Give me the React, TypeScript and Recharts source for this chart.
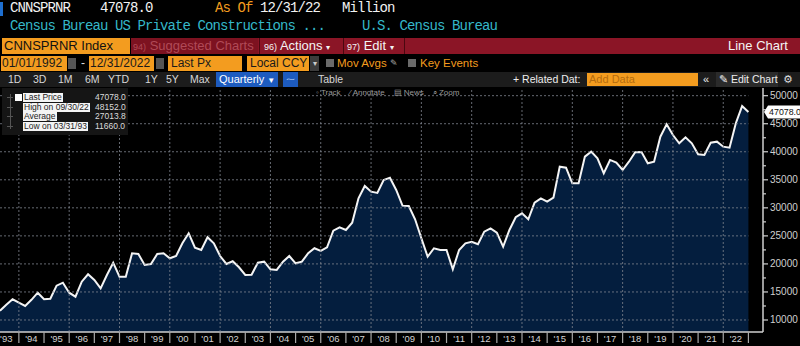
import React from "react";
import {
  Area,
  ComposedChart,
  Line,
  ReferenceDot,
  XAxis,
  YAxis,
} from "recharts";

// CNNSPRNR, quarterly, USD mn (Q1..Q4 per row)
const constructionValues = [
  11660, 12700, 13690, 13100, // 1993
  12500, 13600, 14870, 13690, // 1994
  13800, 16120, 16650, 14870, // 1995
  14160, 16830, 18150, 17130, // 1996
  15650, 18030, 20220, 17730, // 1997
  17730, 21900, 21770, 19810, // 1998
  19990, 21770, 21900, 21000, // 1999
  21410, 23680, 25460, 22900, // 2000
  22480, 24750, 23680, 21410, // 2001
  19990, 20470, 19400, 18030, // 2002
  18080, 20220, 20400, 19040, // 2003
  18920, 20400, 21410, 20110, // 2004
  20400, 21900, 22790, 22310, // 2005
  22970, 25930, 26530, 26050, // 2006
  27350, 31700, 33900, 32880, // 2007
  32650, 34970, 35380, 33190, // 2008
  30390, 30330, 27960, 24570, // 2009
  21290, 22790, 22480, 22480, // 2010
  19040, 22480, 23680, 23960, // 2011
  23500, 25750, 26350, 25570, // 2012
  23070, 26050, 28320, 29030, // 2013
  27960, 30920, 31700, 31100, // 2014
  31810, 37340, 37160, 34380, // 2015
  34380, 39130, 40020, 38840, // 2016
  36160, 38540, 38060, 36750, // 2017
  38230, 39910, 39960, 37950, // 2018
  38230, 42690, 44900, 42990, // 2019
  41510, 42580, 41510, 39550, // 2020
  39430, 41620, 41800, 40910, // 2021
  40730, 45080, 48152, 47078, // 2022
];
const firstQuarterEnd = 1993.25; // 03/31/93

const yearTicks = [
  1994, 1995, 1996, 1997, 1998, 1999, 2000, 2001, 2002, 2003, 2004, 2005, 2006,
  2007, 2008, 2009, 2010, 2011, 2012, 2013, 2014, 2015, 2016, 2017, 2018, 2019,
  2020, 2021, 2022, 2023,
];
const valueTicks = [
  10000, 12500, 15000, 17500, 20000, 22500, 25000, 27500, 30000, 32500, 35000,
  37500, 40000, 42500, 45000, 47500, 50000,
];
const lastValue = 47078;
const lastDate = 2023.0;

const legendRows = [
  { label: "Last Price", value: "47078.0" },
  { label: "High on 09/30/22", value: "48152.0" },
  { label: "Average", value: "27013.8" },
  { label: "Low on 03/31/93", value: "11660.0" },
];

const chartData = constructionValues.map((v, i) => ({ t: firstQuarterEnd + i / 4, v }));

const CHART_TOP = 86;
const CHART_W = 800;
const CHART_H = 260;
const TOP_MARGIN = 2;
const X_AXIS_H = 14;
const Y_AXIS_W = 37;
const X_DOMAIN: [number, number] = [1993.25, 2023.58];
const Y_DOMAIN: [number, number] = [7860, 51370];
const PLOT_W = CHART_W - Y_AXIS_W;
const PLOT_H = CHART_H - TOP_MARGIN - X_AXIS_H;
const PX_PER_YEAR = PLOT_W / (X_DOMAIN[1] - X_DOMAIN[0]);
const HALF_YEAR = PX_PER_YEAR / 2;
const DATA_END_PX = (lastDate - X_DOMAIN[0]) * PX_PER_YEAR;

const ORANGE = "#f39c1f";
const SANS = '"Liberation Sans", Arial, sans-serif';
const MONO = '"Liberation Mono", "DejaVu Sans Mono", monospace';
const GRID_STROKE = "#80858e";
const AXIS_STROKE = "#cfcfcf";

// year label between boundaries, separator at boundary, dotted grid every 2nd year
function YearTick(props: any) {
  const { x, y, payload } = props;
  const label = "'" + String(payload.value - 1).slice(2);
  const grid = payload.value % 2 === 0 && payload.value <= lastDate - 1;
  return (
    <g>
      {grid && (
        <line x1={x} y1={y} x2={x} y2={y - PLOT_H} stroke={GRID_STROKE} strokeDasharray="2 2" strokeOpacity={0.8} />
      )}
      <line x1={x} y1={y} x2={x} y2={y + 11} stroke="#a8a8a8" strokeWidth={1.2} />
      <text x={x - HALF_YEAR} y={y + 9.5} textAnchor="middle" fill="#d2d2d2" fontSize={9.5} fontFamily={SANS}>
        {label}
      </text>
    </g>
  );
}

// right-hand ticks; majors get a label and a dotted grid line back to the data end
function ValueTick(props: any) {
  const { x, y, payload } = props;
  const major = payload.value % 5000 === 0;
  const plotLeft = x - PLOT_W;
  return (
    <g>
      {major && (
        <line
          x1={plotLeft}
          y1={y}
          x2={plotLeft + DATA_END_PX}
          y2={y}
          stroke={GRID_STROKE}
          strokeDasharray="2 2"
          strokeOpacity={0.8}
        />
      )}
      <line x1={x} y1={y} x2={x + (major ? 5 : 3)} y2={y} stroke={AXIS_STROKE} strokeWidth={1.2} />
      {major && (
        <text x={x + 7} y={y + 3.5} fill="#cfcfcf" fontSize={10} fontFamily={SANS}>
          {payload.value}
        </text>
      )}
    </g>
  );
}

function LastValueTag(props: any) {
  const { cy } = props;
  const x0 = PLOT_W + 1;
  return (
    <g>
      <path
        d={`M${x0} ${cy} L${x0 + 4} ${cy - 6.5} L${CHART_W} ${cy - 6.5} L${CHART_W} ${cy + 6.5} L${x0 + 4} ${cy + 6.5} Z`}
        fill="#ffffff"
      />
      <text x={x0 + 21} y={cy + 3.2} textAnchor="middle" fill="#111" fontSize={8.8} fontFamily={SANS}>
        {lastValue.toFixed(1)}
      </text>
    </g>
  );
}

const abs = (left: number, top: number, extra: React.CSSProperties = {}): React.CSSProperties => ({
  position: "absolute",
  left,
  top,
  whiteSpace: "nowrap",
  ...extra,
});

function Box({ left, top, width, height, bg, children, style }: any) {
  return (
    <div style={abs(left, top, { width, height, background: bg, overflow: "hidden", ...style })}>{children}</div>
  );
}

export default function App() {
  const mono = { fontFamily: MONO, fontSize: 14, letterSpacing: -0.9, lineHeight: "17px" };
  const row3 = { fontFamily: SANS, fontSize: 13, lineHeight: "16px" };
  const row4 = { fontFamily: SANS, fontSize: 12, lineHeight: "16px", color: "#1a1a1a" };
  const row5 = { fontFamily: SANS, fontSize: 10.5, lineHeight: "15px", color: "#d8d8d8" };

  return (
    <div style={abs(0, 0, { width: 800, height: 346, background: "#000", overflow: "hidden" })}>
      {/* row 1: ticker */}
      <Box left={0} top={2} width={3} height={14} bg="#1e6fd0" />
      <div style={abs(10, 0, { ...mono, color: "#f2f2f2" })}>CNNSPRNR</div>
      <div style={abs(100, 0, { ...mono, color: "#f2f2f2" })}>47078.0</div>
      <div style={abs(215, 0, { ...mono, color: ORANGE })}>As Of</div>
      <div style={abs(260, 0, { ...mono, color: "#f2f2f2" })}>12/31/22</div>
      <div style={abs(342, 0, { ...mono, color: "#f2f2f2" })}>Million</div>
      {/* row 2: description */}
      <div style={abs(10, 18, { ...mono, color: "#35b8c9" })}>Census Bureau US Private Constructions ...</div>
      <div style={abs(362, 18, { ...mono, color: "#35b8c9" })}>U.S. Census Bureau</div>

      {/* row 3: security / menu bar */}
      <Box left={2} top={38} width={128} height={16} bg={ORANGE}>
        <div style={{ ...row3, color: "#111", paddingLeft: 2 }}>CNNSPRNR Index</div>
      </Box>
      <Box left={131} top={38} width={669} height={16} bg="#8b1526" />
      <Box left={131} top={38} width={127} height={16} bg="#7d1220">
        <div style={{ ...row3, color: "#b04a57", paddingLeft: 2 }}>
          <span style={{ fontSize: 9 }}>94)</span> Suggested Charts
        </div>
      </Box>
      <Box left={259} top={38} width={1} height={16} bg="#4a0810" />
      <div style={abs(264, 38, { ...row3, color: "#f4f4f4" })}>
        <span style={{ fontSize: 9 }}>96)</span> Actions <span style={{ fontSize: 8 }}>▾</span>
      </div>
      <Box left={343} top={38} width={1} height={16} bg="#4a0810" />
      <div style={abs(347, 38, { ...row3, color: "#f4f4f4" })}>
        <span style={{ fontSize: 9 }}>97)</span> Edit <span style={{ fontSize: 8 }}>▾</span>
      </div>
      <Box left={404} top={38} width={1} height={16} bg="#4a0810" />
      <div style={abs(728, 38, { ...row3, color: "#f4f4f4" })}>Line Chart</div>

      {/* row 4: date range and options */}
      <Box left={1} top={56} width={66} height={15} bg={ORANGE}>
        <div style={{ ...row4, lineHeight: "15px", paddingLeft: 1 }}>01/01/1992</div>
      </Box>
      <Box left={68} top={58} width={8} height={11} bg="#555" />
      <div style={abs(81, 55, { ...row4, color: "#ddd" })}>-</div>
      <Box left={89} top={56} width={65} height={15} bg={ORANGE}>
        <div style={{ ...row4, lineHeight: "15px", paddingLeft: 1 }}>12/31/2022</div>
      </Box>
      <Box left={156} top={58} width={8} height={11} bg="#555" />
      <Box left={168} top={56} width={74} height={15} bg={ORANGE}>
        <div style={{ ...row4, lineHeight: "15px", paddingLeft: 3 }}>Last Px</div>
      </Box>
      <Box left={247} top={56} width={62} height={15} bg={ORANGE}>
        <div style={{ ...row4, lineHeight: "15px", paddingLeft: 3 }}>Local CCY</div>
      </Box>
      <Box left={310} top={56} width={9} height={15} bg="#3c3c3c">
        <div style={{ ...row4, fontSize: 8, color: "#ccc", textAlign: "center", lineHeight: "15px" }}>▾</div>
      </Box>
      <Box left={326} top={59} width={8} height={8} bg="#6a6a6a" />
      <div style={abs(337, 55, { ...row4, fontSize: 11.5, color: ORANGE })}>Mov Avgs</div>
      <div style={abs(390, 55, { ...row4, color: "#aaa", fontFamily: "DejaVu Sans", fontSize: 9 })}>✎</div>
      <Box left={408} top={59} width={8} height={8} bg="#6a6a6a" />
      <div style={abs(420, 55, { ...row4, fontSize: 11.5, color: ORANGE })}>Key Events</div>

      {/* row 5: period buttons */}
      <Box left={0} top={72} width={800} height={15} bg="#1c1c1c" />
      {[
        ["1D", 8],
        ["3D", 33],
        ["1M", 58],
        ["6M", 85],
        ["YTD", 108],
        ["1Y", 145],
        ["5Y", 166],
        ["Max", 190],
      ].map(([t, l]) => (
        <div key={t as string} style={abs(l as number, 72, row5)}>
          {t}
        </div>
      ))}
      <Box left={216} top={72} width={62} height={15} bg="#1d5bbf">
        <div style={{ ...row5, color: "#fff", paddingLeft: 3, fontSize: 11 }}>
          Quarterly <span style={{ fontSize: 8 }}>▼</span>
        </div>
      </Box>
      <Box left={283} top={72} width={15} height={15} bg="#1d5bbf">
        <div style={{ ...row5, color: "#cfe0ff", fontSize: 9, textAlign: "center" }}>⁓</div>
      </Box>
      <div style={abs(318, 72, row5)}>Table</div>
      <div style={abs(513, 72, { ...row5, color: "#eee" })}>+ Related Dat:</div>
      <Box left={587} top={73} width={111} height={13} bg={ORANGE}>
        <div style={{ ...row5, lineHeight: "13px", color: "#b56c0e", paddingLeft: 2, fontSize: 11 }}>Add Data</div>
      </Box>
      <div style={abs(703, 72, { ...row5, color: "#eee", fontSize: 11 })}>«</div>
      <Box left={716} top={72} width={62} height={15} bg="#2b2b2b">
        <div style={{ ...row5, color: "#eee", paddingLeft: 3 }}>✎ Edit Chart</div>
      </Box>
      <div style={abs(783, 72, { ...row5, color: "#ddd", fontFamily: "DejaVu Sans", fontSize: 11 })}>⚙</div>

      {/* chart */}
      <div style={abs(0, CHART_TOP)}>
        <ComposedChart
          width={CHART_W}
          height={CHART_H}
          data={chartData}
          margin={{ top: TOP_MARGIN, right: 0, bottom: 0, left: 0 }}
        >
          <XAxis
            type="number"
            dataKey="t"
            domain={X_DOMAIN}
            ticks={yearTicks}
            interval={0}
            height={X_AXIS_H}
            tickSize={0}
            tickMargin={0}
            tick={<YearTick />}
            axisLine={{ stroke: AXIS_STROKE, strokeWidth: 1.5 }}
          />
          <YAxis
            orientation="right"
            type="number"
            domain={Y_DOMAIN}
            ticks={valueTicks}
            interval={0}
            width={Y_AXIS_W}
            tickSize={0}
            tickMargin={0}
            tick={<ValueTick />}
            axisLine={{ stroke: AXIS_STROKE, strokeWidth: 1.5 }}
          />
          <Area
            dataKey="v"
            type="linear"
            stroke="none"
            fill="#041e3e"
            fillOpacity={1}
            isAnimationActive={false}
          />
          <Line
            dataKey="v"
            type="linear"
            stroke="#f4f4f4"
            strokeWidth={2}
            dot={false}
            isAnimationActive={false}
          />
          <ReferenceDot x={lastDate} y={lastValue} ifOverflow="visible" shape={<LastValueTag />} />
        </ComposedChart>
      </div>

      {/* chart tools */}
      <div style={abs(316, 87, { fontFamily: SANS, fontSize: 8, color: "#9a9a9a", lineHeight: "11px" })}>
        ◦ Track &nbsp;&nbsp; ⁄ Annotate &nbsp;&nbsp; ▤ News &nbsp;&nbsp; ⌕ Zoom
      </div>

      {/* legend */}
      <Box left={2} top={88} width={126} height={47} bg="#151515" style={{ zIndex: 2 }}>
        <div style={abs(8, 6, { width: 1, height: 35, background: "#555" })} />
        <div style={abs(13, 6, { width: 7, height: 7, background: "#fff" })} />
        {legendRows.map((r, i) => (
          <div key={r.label}>
            <div style={abs(5, 9 + i * 9.7, { width: 6, height: 1, background: "#555" })} />
            <div
              style={abs(21, 5 + i * 9.7, {
                background: "#f4f4f4",
                color: "#222",
                fontFamily: SANS,
                fontSize: 8.5,
                lineHeight: "9px",
                padding: "0 1px",
              })}
            >
              {r.label}
            </div>
            <div
              style={abs(93, 5 + i * 9.7, {
                color: "#dcdcdc",
                fontFamily: SANS,
                fontSize: 8.5,
                lineHeight: "9px",
              })}
            >
              {r.value}
            </div>
          </div>
        ))}
      </Box>
    </div>
  );
}
